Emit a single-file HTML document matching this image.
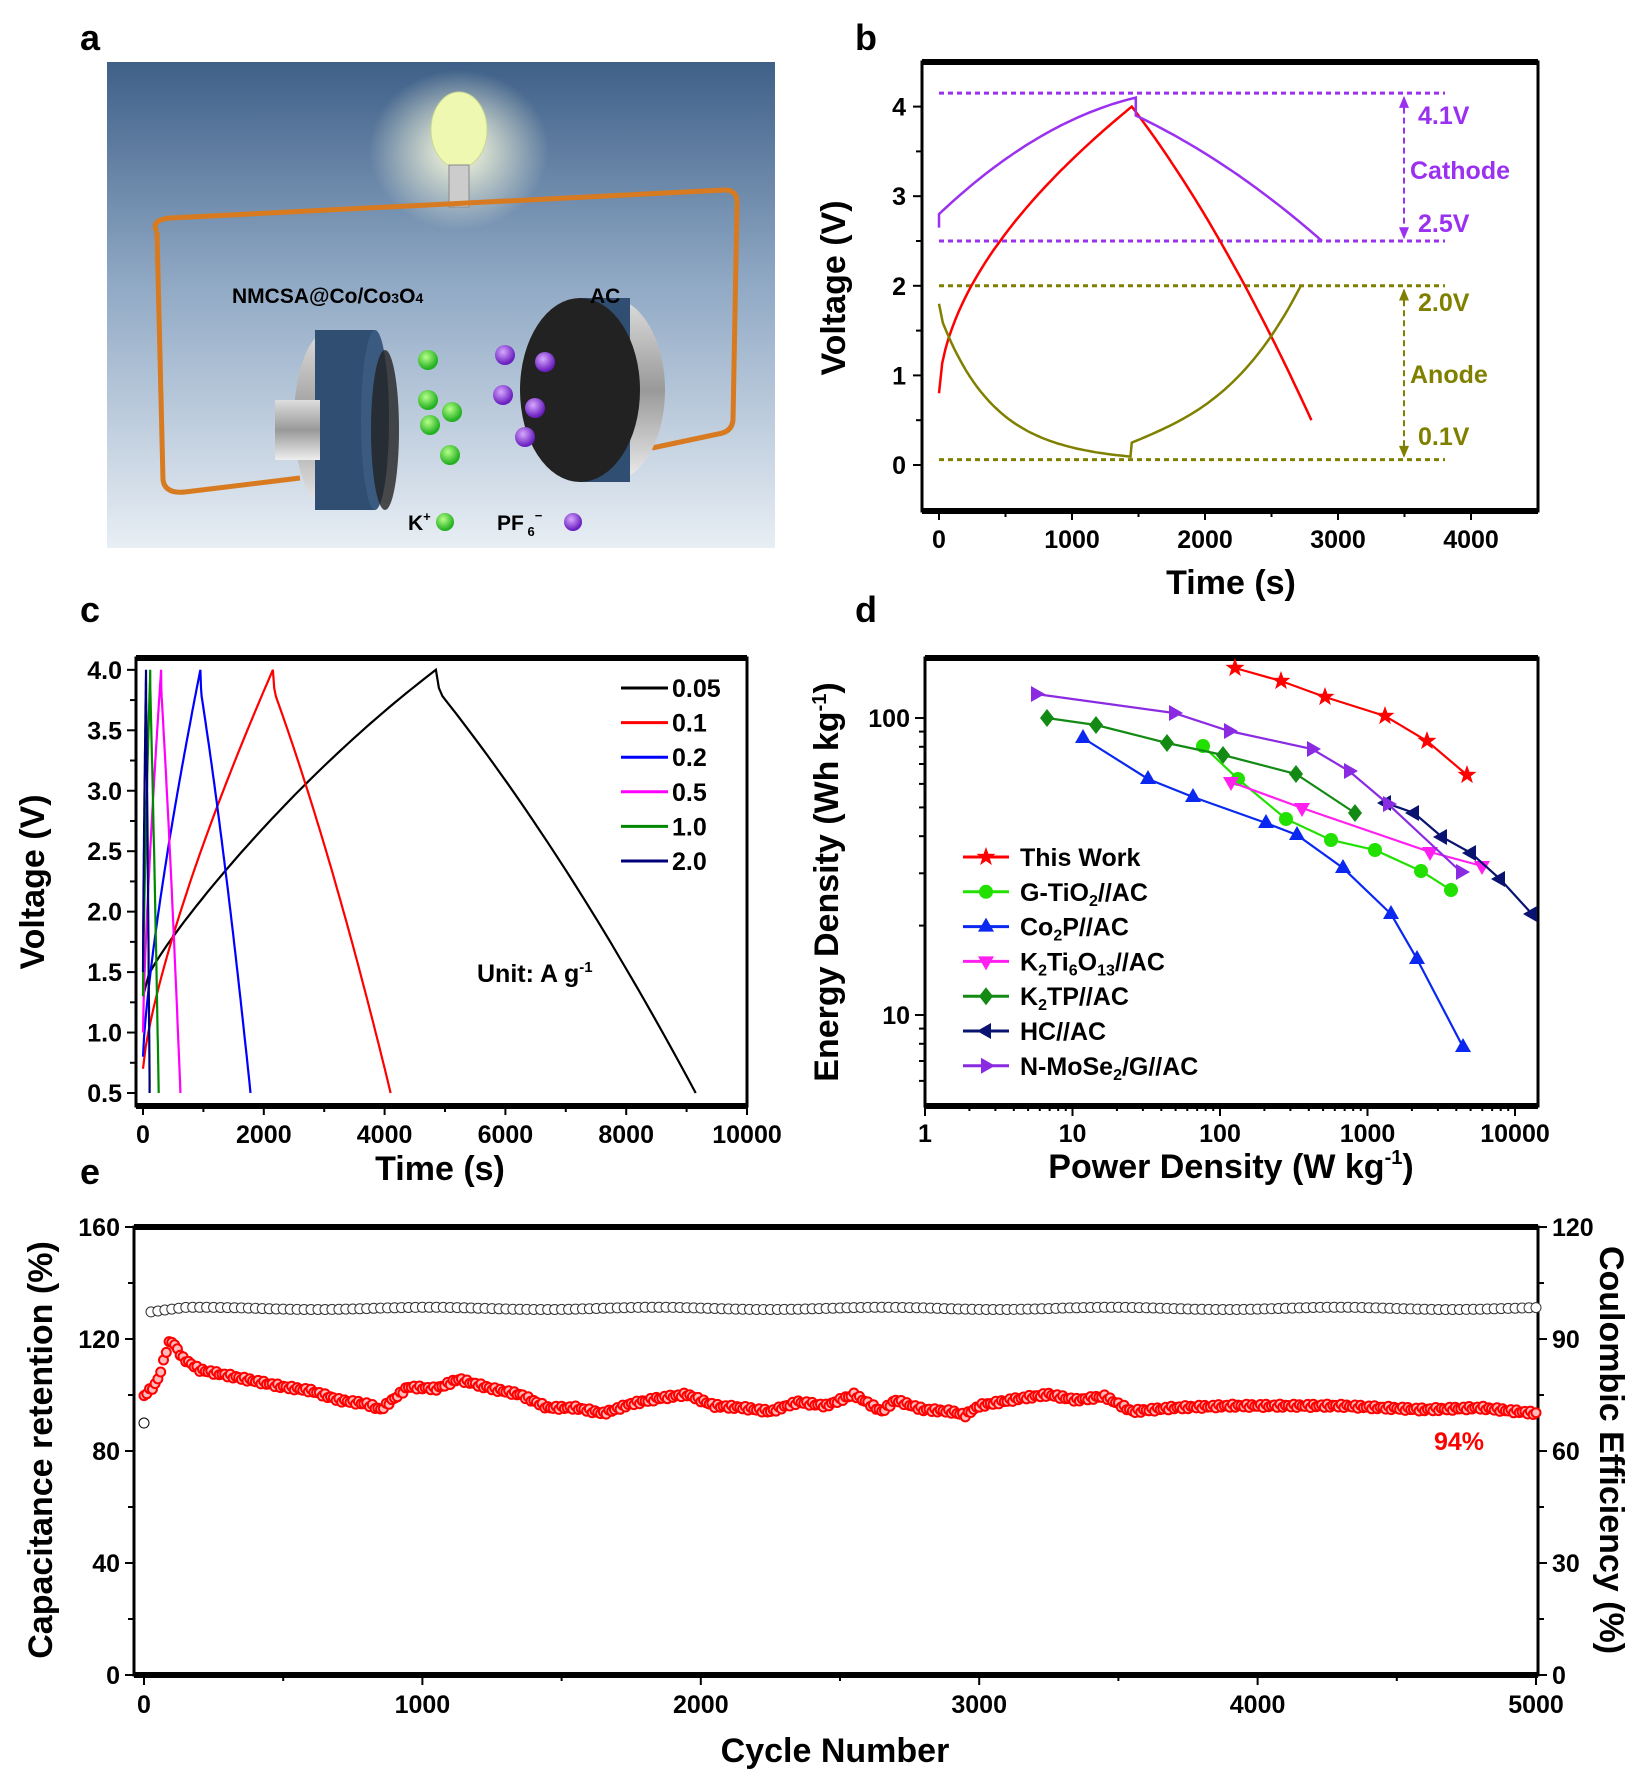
<!DOCTYPE html>
<html><head><meta charset="utf-8">
<style>
html,body{margin:0;padding:0;background:#fff;}
svg{display:block;font-family:"Liberation Sans",Arial,sans-serif;}
.t{font-weight:bold;font-size:25px;fill:#000}
.ti{font-weight:bold;font-size:34px;fill:#000}
.pl{font-weight:bold;font-size:36px;fill:#000}
</style></head><body>
<svg id="s" width="1628" height="1772" viewBox="0 0 1628 1772" xmlns="http://www.w3.org/2000/svg">
<defs>
<linearGradient id="bg" x1="0" y1="0" x2="0" y2="1">
<stop offset="0" stop-color="#3f6088"/><stop offset="0.45" stop-color="#8fa8c4"/><stop offset="1" stop-color="#e8eef4"/></linearGradient>
<radialGradient id="glow" cx="0.5" cy="0.5" r="0.5"><stop offset="0" stop-color="#ffffe0" stop-opacity="1"/><stop offset="1" stop-color="#ffffe0" stop-opacity="0"/></radialGradient>
<radialGradient id="gs" cx="0.4" cy="0.35" r="0.6"><stop offset="0" stop-color="#b8ff8a"/><stop offset="1" stop-color="#22b020"/></radialGradient>
<radialGradient id="ps" cx="0.4" cy="0.35" r="0.6"><stop offset="0" stop-color="#d8a8ff"/><stop offset="1" stop-color="#6a1fc0"/></radialGradient>
<linearGradient id="metal" x1="0" y1="0" x2="0" y2="1"><stop offset="0" stop-color="#ddd"/><stop offset="0.5" stop-color="#999"/><stop offset="1" stop-color="#eee"/></linearGradient>
</defs>
<text class="pl" x="80" y="50">a</text>
<rect x="107" y="62" width="668" height="486" fill="url(#bg)"/>
<ellipse cx="459" cy="150" rx="90" ry="80" fill="url(#glow)"/>
<ellipse cx="459" cy="130" rx="28" ry="38" fill="#eef8b0" stroke="#c8d890"/>
<rect x="449" y="165" width="20" height="42" fill="#ccc" stroke="#888"/>
<path d="M157 232 Q150 220 170 218 L725 190 Q738 190 737 205 L733 420 Q732 432 718 434 L652 448" fill="none" stroke="#d77a20" stroke-width="5"/>
<path d="M157 232 L163 480 Q165 494 185 492 L300 478" fill="none" stroke="#d77a20" stroke-width="5"/>
<ellipse cx="330" cy="420" rx="36" ry="90" fill="url(#metal)"/>
<rect x="315" y="330" width="60" height="180" fill="#2f4e72"/>
<ellipse cx="375" cy="420" rx="14" ry="90" fill="#3a5a80"/>
<rect x="275" y="400" width="45" height="60" fill="url(#metal)"/>
<ellipse cx="385" cy="430" rx="14" ry="80" fill="#222" opacity="0.8"/>
<ellipse cx="610" cy="390" rx="55" ry="92" fill="url(#metal)"/>
<rect x="580" y="298" width="50" height="184" fill="#2f4e72"/>
<ellipse cx="580" cy="390" rx="60" ry="92" fill="#222"/>
<g fill="url(#gs)"><circle cx="428" cy="360" r="10"/><circle cx="428" cy="400" r="10"/><circle cx="452" cy="412" r="10"/><circle cx="430" cy="425" r="10"/><circle cx="450" cy="455" r="10"/></g>
<g fill="url(#ps)"><circle cx="505" cy="355" r="10"/><circle cx="545" cy="362" r="10"/><circle cx="503" cy="395" r="10"/><circle cx="535" cy="408" r="10"/><circle cx="525" cy="437" r="10"/></g>
<text x="232" y="303" font-weight="bold" font-size="21" fill="#000">NMCSA@Co/Co<tspan font-size="14">3</tspan>O<tspan font-size="14">4</tspan></text>
<text x="590" y="303" font-weight="bold" font-size="21" fill="#000">AC</text>
<text x="408" y="530" font-weight="bold" font-size="21">K<tspan font-size="13" dy="-9">+</tspan></text>
<circle cx="445" cy="522" r="9" fill="url(#gs)"/>
<text x="497" y="530" font-weight="bold" font-size="21">PF<tspan font-size="13" dy="6"> 6</tspan><tspan font-size="13" dy="-16">−</tspan></text>
<circle cx="573" cy="522" r="9" fill="url(#ps)"/>

<text class="pl" x="855" y="50">b</text>
<text class="pl" x="80" y="622">c</text>
<text class="pl" x="855" y="622">d</text>
<text class="pl" x="80" y="1184">e</text>
<g id="g"></g>
</svg>
<script>
var G=document.getElementById('g'),h='';
function T(x,y,s,c,a,st){h+='<text x="'+x+'" y="'+y+'" class="'+(c||'t')+'" text-anchor="'+(a||'middle')+'"'+(st?' '+st:'')+'>'+s+'</text>';}
function L(x1,y1,x2,y2,col,w,extra){h+='<line x1="'+x1+'" y1="'+y1+'" x2="'+x2+'" y2="'+y2+'" stroke="'+(col||'#000')+'" stroke-width="'+(w||2)+'" '+(extra||'')+'/>';}
function P(pts,col,w,extra){h+='<polyline fill="none" stroke="'+col+'" stroke-width="'+(w||2)+'" '+(extra||'')+' points="'+pts.map(function(p){return p[0].toFixed(1)+','+p[1].toFixed(1)}).join(' ')+'"/>';}
function box(l,t,r,b){h+='<rect x="'+l+'" y="'+t+'" width="'+(r-l)+'" height="'+(b-t)+'" fill="none" stroke="#000" stroke-width="3"/>';L(l,t,r,t,'#000',6);L(l,b,r,b,'#000',6);}
(function(){
var X=function(t){return 939+t*0.1330},Y=function(v){return 465-v*89.6};
box(922,62,1538,511);
[0,1000,2000,3000,4000].forEach(function(t){L(X(t),511,X(t),520);T(X(t),548,t);});
[500,1500,2500,3500].forEach(function(t){L(X(t),511,X(t),517);});
[0,1,2,3,4].forEach(function(v){L(913,Y(v),922,Y(v));T(906,Y(v)+9,v,'t','end');});
[0.5,1.5,2.5,3.5].forEach(function(v){L(916,Y(v),922,Y(v));});
T(1231,594,'Time (s)','ti');
T(0,0,'Voltage (V)','ti','middle','transform="translate(845,288) rotate(-90)"');
var pu='#9a30f0',ol='#808000';
L(939,Y(4.15),1445,Y(4.15),pu,3,'stroke-dasharray="5,4"');L(939,Y(2.5),1445,Y(2.5),pu,3,'stroke-dasharray="5,4"');
L(939,Y(2.0),1445,Y(2.0),ol,3,'stroke-dasharray="5,4"');L(939,Y(0.06),1445,Y(0.06),ol,3,'stroke-dasharray="5,4"');
L(1404,Y(4.1),1404,Y(2.55),pu,2,'stroke-dasharray="6,4"');L(1404,Y(1.95),1404,Y(0.1),ol,2,'stroke-dasharray="6,4"');
h+='<path d="M1404 '+(Y(4.12))+' l-5 12 h10z" fill="'+pu+'"/><path d="M1404 '+(Y(2.52))+' l-5 -12 h10z" fill="'+pu+'"/>';
h+='<path d="M1404 '+(Y(1.97))+' l-5 12 h10z" fill="'+ol+'"/><path d="M1404 '+(Y(0.08))+' l-5 -12 h10z" fill="'+ol+'"/>';
var sp='style="fill:'+pu+'"',so='style="fill:'+ol+'"';
T(1418,124,'4.1V','t','start',sp);T(1410,179,'Cathode','t','start',sp);T(1418,232,'2.5V','t','start',sp);
T(1418,311,'2.0V','t','start',so);T(1410,383,'Anode','t','start',so);T(1418,445,'0.1V','t','start',so);
var r=[],p=[],o=[],i,t,f;
for(i=0;i<=60;i++){t=1450*i/60;r.push([X(t),Y(0.8+3.2*Math.pow(i/60,0.55))]);}
for(i=0;i<=40;i++){t=1450+1350*i/40;f=i/40;r.push([X(t),Y(4.0-3.5*(0.75*f+0.25*f*f))]);}
P(r,'#f00',2.5);
p.push([X(0),Y(2.65)]);
for(i=0;i<=50;i++){f=i/50;t=1480*f;p.push([X(t),Y(2.8+1.3*(1.6*f-0.6*f*f))]);}
p.push([X(1480),Y(3.9)]);
for(i=0;i<=40;i++){f=i/40;t=1480+1400*f;p.push([X(t),Y(3.9-1.4*(0.7*f+0.3*f*f))]);}
P(p,pu,2.5);
o.push([X(0),Y(1.8)]);
for(i=1;i<=50;i++){f=i/50;t=1440*f;o.push([X(t),Y(0.1+1.6*Math.exp(-f*3.5)*(1-0.1*f)-0.05*f)]);}
o.push([X(1440),Y(0.1)],[X(1450),Y(0.25)]);
for(i=0;i<=40;i++){f=i/40;t=1450+1270*f;o.push([X(t),Y(0.25+1.75*(0.45*f+0.55*Math.pow(f,3)))]);}
P(o,ol,2.5);
})();
(function(){
var X=function(t){return 143+t*0.0604},Y=function(v){return 1093-(v-0.5)*120.9};
box(136,658,747,1106);
for(var t=0;t<=10000;t+=2000){L(X(t),1106,X(t),1115);T(X(t),1143,t);}
for(t=1000;t<10000;t+=2000)L(X(t),1106,X(t),1112);
for(var v=0.5;v<=4.01;v+=0.5){L(127,Y(v),136,Y(v));T(122,Y(v)+9,v.toFixed(1),'t','end');}
for(v=0.75;v<4;v+=0.5)L(130,Y(v),136,Y(v));
T(440,1180,'Time (s)','ti');
T(0,0,'Voltage (V)','ti','middle','transform="translate(44,882) rotate(-90)"');
var S=[['#000',4850,9150,1.3],['#f00',2150,4100,0.7],['#00f',950,1780,0.8],['#f0f',300,620,1.0],['#080',120,260,1.3],['#00007a',50,110,1.5]];
S.forEach(function(s){var pts=[],i,f;
for(i=0;i<=50;i++){f=i/50;pts.push([X(s[1]*f),Y(s[3]+(4-s[3])*(s[0]=='#000'?(0.15*Math.pow(f,0.3)+0.85*(1.25*f-0.25*f*f)):Math.pow(f,0.75)))]);}
pts.push([X(s[1]+s[1]*0.01),Y(3.85)]);
for(i=1;i<=40;i++){f=i/40;pts.push([X(s[1]+(s[2]-s[1])*f),Y(3.85-3.35*(0.8*f+0.2*f*f))]);}
P(pts,s[0],2.2);});
var lab=['0.05','0.1','0.2','0.5','1.0','2.0'];
lab.forEach(function(l,i){var y=688+i*34.6;L(621,y,668,y,S[i][0],3);T(672,y+9,l,'t','start');});
T(477,982,'Unit: A g<tspan font-size="15" dy="-10">-1</tspan>','t','start');
})();
(function(){
var X=function(p){return 925+Math.log10(p)*147.5},Y=function(e){return 1015-(Math.log10(e)-1)*297};
box(925,658,1538,1106);
[1,10,100,1000,10000].forEach(function(p){L(X(p),1106,X(p),1116);T(X(p),1142,p);
 for(var k=2;k<10&&p<10000;k++)L(X(p*k),1106,X(p*k),1111);});
[10,100].forEach(function(e){L(915,Y(e),925,Y(e));T(910,Y(e)+9,e,'t','end');});
[6,7,8,9,20,30,40,50,60,70,80,90,200].forEach(function(e){var y=Y(e);if(y>660&&y<1104)L(919,y,925,y);});
T(1231,1178,'Power Density (W kg<tspan font-size="20" dy="-14">-1</tspan><tspan dy="14">)</tspan>','ti');
T(0,0,'Energy Density (Wh kg<tspan font-size="20" dy="-12">-1</tspan><tspan dy="12">)</tspan>','ti','middle','transform="translate(838,882) rotate(-90)"');
function mk(type,x,y,c){
 if(type=='star'){var d='';for(var i=0;i<10;i++){var a=-Math.PI/2+i*Math.PI/5,rr=i%2?4:10;d+=(i?'L':'M')+(x+rr*Math.cos(a)).toFixed(1)+' '+(y+rr*Math.sin(a)).toFixed(1);}h+='<path d="'+d+'Z" fill="'+c+'"/>';}
 else if(type=='c')h+='<circle cx="'+x+'" cy="'+y+'" r="7" fill="'+c+'"/>';
 else if(type=='u')h+='<path d="M'+x+' '+(y-9)+'l8 14h-16z" fill="'+c+'"/>';
 else if(type=='dn')h+='<path d="M'+x+' '+(y+9)+'l8 -14h-16z" fill="'+c+'"/>';
 else if(type=='dia')h+='<path d="M'+x+' '+(y-9)+'l7 9l-7 9l-7 -9z" fill="'+c+'"/>';
 else if(type=='l')h+='<path d="M'+(x-9)+' '+y+'l14 -8v16z" fill="'+c+'"/>';
 else if(type=='r')h+='<path d="M'+(x+9)+' '+y+'l-14 -8v16z" fill="'+c+'"/>';}
var D=[
['This Work','#f00','star',[[1235,668],[1281,681],[1325,697],[1385,716],[1427,741],[1467,775]]],
['G-TiO<tspan font-size="16" dy="5">2</tspan><tspan dy="-5">//AC</tspan>','#22e000','c',[[1203,746],[1238,779],[1286,819],[1331,840],[1375,850],[1421,871],[1451,890]]],
['Co<tspan font-size="16" dy="5">2</tspan><tspan dy="-5">P//AC</tspan>','#0a28f0','u',[[1083,738],[1148,779],[1193,797],[1266,823],[1297,835],[1343,868],[1391,914],[1417,959],[1463,1047]]],
['K<tspan font-size="16" dy="5">2</tspan><tspan dy="-5">Ti</tspan><tspan font-size="16" dy="5">6</tspan><tspan dy="-5">O</tspan><tspan font-size="16" dy="5">13</tspan><tspan dy="-5">//AC</tspan>','#ff20f0','dn',[[1231,782],[1302,808],[1430,852],[1482,866]]],
['K<tspan font-size="16" dy="5">2</tspan><tspan dy="-5">TP//AC</tspan>','#138a13','dia',[[1047,718],[1096,725],[1167,743],[1223,755],[1296,774],[1355,813]]],
['HC//AC','#0a1470','l',[[1386,803],[1414,813],[1442,837],[1471,853],[1500,879],[1532,914]]],
['N-MoSe<tspan font-size="16" dy="5">2</tspan><tspan dy="-5">/G//AC</tspan>','#8a2be2','r',[[1036,694],[1174,713],[1229,731],[1312,749],[1349,771],[1388,804],[1461,872]]]];
D.forEach(function(d,i){P(d[3],d[1],2.2);d[3].forEach(function(q){mk(d[2],q[0],q[1],d[1]);});
 var y=857+i*34.8;L(963,y,1009,y,d[1],3);mk(d[2],986,y,d[1]);T(1020,y+9,d[0],'t','start');});
})();
(function(){
var X=function(c){return 144+c*0.2784},Y=function(v){return 1675-v*2.8},YR=function(v){return 1675-v*3.733};
box(134,1227,1538,1675);
for(var c=0;c<=5000;c+=1000){L(X(c),1675,X(c),1685);T(X(c),1713,c);}
for(c=500;c<5000;c+=1000)L(X(c),1675,X(c),1681);
for(var v=0;v<=160;v+=40){L(125,Y(v),134,Y(v));T(120,Y(v)+9,v,'t','end');}
for(v=20;v<160;v+=40)L(128,Y(v),134,Y(v));
for(v=0;v<=120;v+=30){L(1538,YR(v),1547,YR(v));T(1552,YR(v)+9,v,'t','start');}
for(v=15;v<120;v+=30)L(1538,YR(v),1544,YR(v));
T(835,1762,'Cycle Number','ti');
T(0,0,'Capacitance retention (%)','ti','middle','transform="translate(52,1450) rotate(-90)"');
T(0,0,'Coulombic Efficiency (%)','ti','middle','transform="translate(1600,1450) rotate(90)"');
h+='<circle cx="'+X(0)+'" cy="'+YR(67.5)+'" r="5" fill="#fff" stroke="#000" stroke-width="1"/>';
for(c=25;c<=5000;c+=25){var ce=98.2+(c<150?-1.2+c/125:0)+0.3*Math.sin(c/130);
 h+='<circle cx="'+X(c).toFixed(1)+'" cy="'+YR(ce).toFixed(1)+'" r="5" fill="#fff" stroke="#333" stroke-width="1"/>';}
var K=[[0,568],[40,540],[60,505],[80,450],[95,420],[110,435],[140,470],[200,500],[300,515],[400,530],[500,545],[600,555],[700,580],[800,590],[850,605],[900,575],[950,545],[1050,550],[1130,525],[1250,550],[1350,565],[1450,600],[1550,600],[1650,615],[1750,590],[1850,575],[1950,565],[2050,595],[2150,600],[2250,610],[2350,585],[2450,595],[2550,565],[2650,610],[2700,580],[2800,605],[2900,610],[2950,620],[3000,595],[3150,575],[3250,565],[3350,580],[3450,570],[3550,610],[3700,600],[3900,595],[4100,595],[4300,595],[4600,605],[4800,600],[5000,615]];
function ret(c){for(var i=1;i<K.length;i++)if(c<=K[i][0]){var a=K[i-1],b=K[i],f=(c-a[0])/(b[0]-a[0]);var y=a[1]+(b[1]-a[1])*f;return (495-0.3795*y)/2.8;}return 94;}
for(c=0;c<=5000;c+=10){var rv=ret(c)+0.6*Math.sin(c*0.37);
 h+='<circle cx="'+X(c).toFixed(1)+'" cy="'+Y(rv).toFixed(1)+'" r="4.5" fill="#fbb" stroke="#f00" stroke-width="2"/>';}
T(1459,1450,'94%','t','middle','style="fill:#f00"');
})();
G.innerHTML=h;
</script>
</body></html>
